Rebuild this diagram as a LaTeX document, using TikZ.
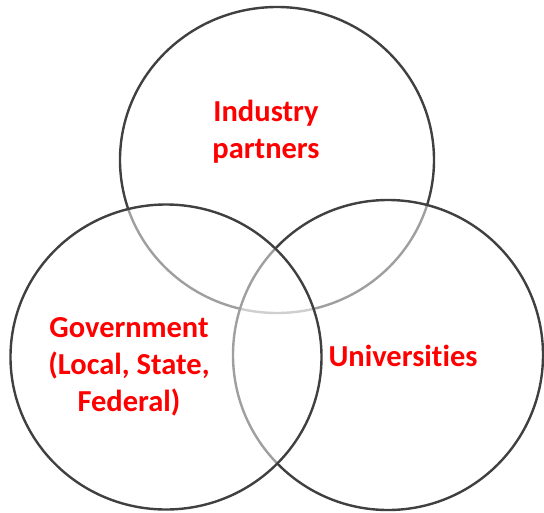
\documentclass[tikz,border=0pt]{standalone}
\usepackage{fontspec}
\setmainfont{Carlito}[Ligatures={NoCommon}]
\usetikzlibrary{positioning}

\definecolor{ringgray}{HTML}{404040}
\definecolor{labelred}{HTML}{FF0000}

\begin{document}
\begin{tikzpicture}[x=1pt, y=-1pt]
    \tikzstyle{ring} = [draw=ringgray, line width=2.4pt, fill=white, fill opacity=0.5]
    \tikzstyle{lbl} = [text=labelred, font=\fontsize{30.5}{37}\selectfont\bfseries, align=center, inner sep=0pt]
    \useasboundingbox (0,0) rectangle (544,512);
    % circles: top first, then right, then left
    \draw[ring] (277,160) ellipse [x radius=157, y radius=153];
    \draw[ring] (388,355) ellipse [x radius=155, y radius=155];
    \draw[ring] (166,357) ellipse [x radius=155.5, y radius=152.5];
    % labels
    \node[lbl] (industry) at (266,132) {Industry\\partners};
    \node[lbl] (government) at (129,367) {Government\\(Local, State,\\Federal)};
    \node[lbl] (universities) at (403,356) {Universities};
\end{tikzpicture}
\end{document}
